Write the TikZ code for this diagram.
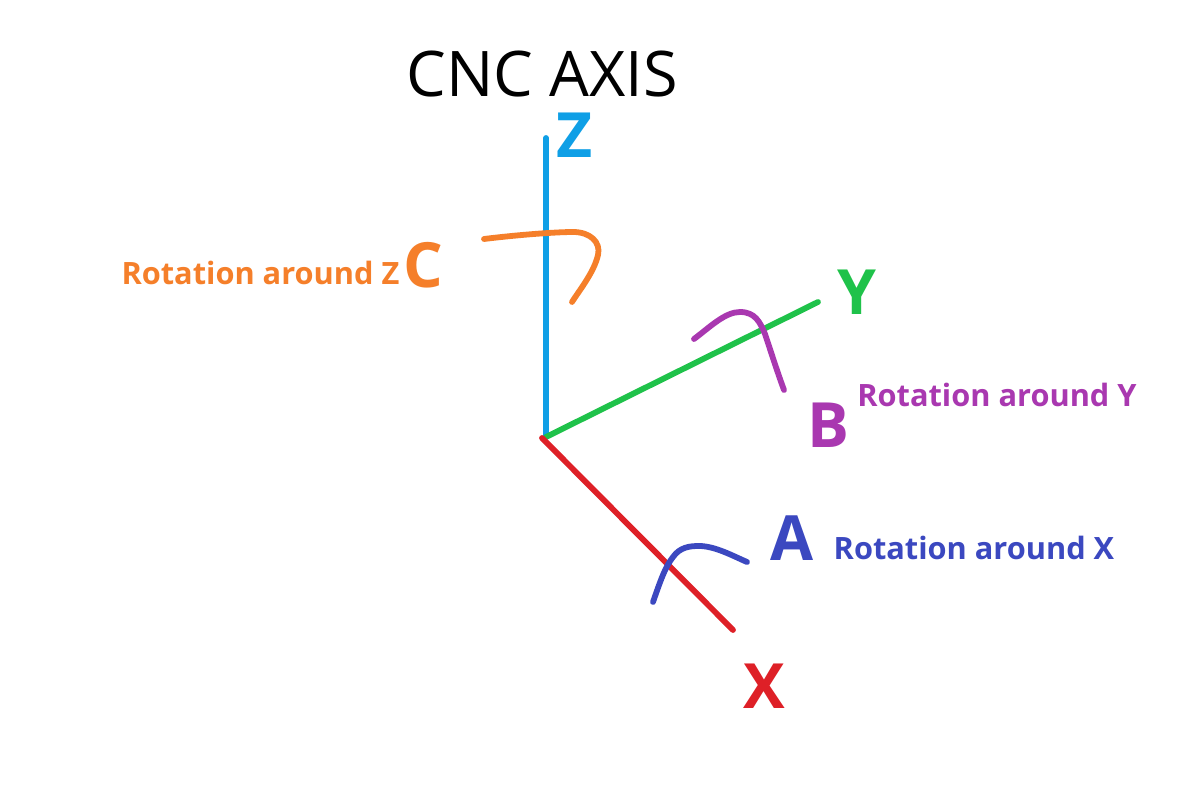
\documentclass[tikz,border=0pt]{standalone}
\usepackage{fontspec}
\setmainfont{Open Sans}
\usetikzlibrary{arrows.meta, positioning}
\definecolor{axisz}{HTML}{0F9FE6}
\definecolor{axisy}{HTML}{1FC24A}
\definecolor{axisx}{HTML}{DE2027}
\definecolor{rotc}{HTML}{F57F2A}
\definecolor{rotb}{HTML}{A938B0}
\definecolor{rota}{HTML}{3B48C0}
\tikzset{
  axisline/.style={line width=3.3pt, line cap=round},
  rotline/.style={line width=3.3pt, line cap=round},
  letter/.style={font=\fontsize{35.5}{36}\selectfont\bfseries, inner sep=0pt},
  rotlabel/.style={font=\fontsize{17.5}{20}\selectfont\bfseries, inner sep=0pt}
}

\begin{document}
\begin{tikzpicture}
    \useasboundingbox (0,0) rectangle (24,16.14);
    \fill[white] (0,0) rectangle (24,16.14);
    \node[font=\fontsize{35.8}{36}\selectfont, inner sep=0pt] (title) at (10.84,14.66) {CNC AXIS};

    \coordinate (origin) at (10.92,7.40);
    \coordinate (ztip) at (10.92,13.38);
    \coordinate (ytip) at (16.36,10.10);
    \coordinate (xstart) at (10.84,7.38);
    \coordinate (xtip) at (14.66,3.54);

    \draw[axisline, axisz] (origin) -- (ztip);
    \draw[axisline, axisy] (origin) -- (ytip);
    \draw[axisline, axisx] (xstart) -- (xtip);

    \node[letter, text=axisz] (zlabel) at (11.50,13.43) {Z};
    \node[letter, text=axisy] (ylabel) at (17.14,10.30) {Y};
    \node[letter, text=axisx] (xlabel) at (15.28,2.42) {X};
    \node[letter, text=rotc] (clabel) at (8.46,10.84) {C};
    \node[letter, text=rotb] (blabel) at (16.56,7.64) {B};
    \node[letter, text=rota] (alabel) at (15.84,5.38) {A};

    \node[rotlabel, text=rotc] (ctext) at (5.21,10.68) {Rotation around Z};
    \node[rotlabel, text=rotb] (btext) at (19.94,8.24) {Rotation around Y};
    \node[rotlabel, text=rota] (atext) at (19.48,5.18) {Rotation around X};

    % rotation strokes
    \draw[rotline, rotc] (9.68,11.36) .. controls (10.5,11.46) and (11.2,11.50) .. (11.46,11.50)
        .. controls (11.8,11.50) and (12.02,11.30) .. (11.96,11.04)
        .. controls (11.88,10.70) and (11.62,10.38) .. (11.44,10.10);
    \draw[rotline, rotb] (13.88,9.36) .. controls (14.2,9.60) and (14.5,9.90) .. (14.80,9.90)
        .. controls (15.1,9.90) and (15.2,9.70) .. (15.30,9.46)
        .. controls (15.42,9.10) and (15.56,8.66) .. (15.68,8.34);
    \draw[rotline, rota] (13.06,4.10) .. controls (13.2,4.50) and (13.3,4.80) .. (13.46,5.00)
        .. controls (13.6,5.20) and (13.8,5.22) .. (13.98,5.22)
        .. controls (14.3,5.22) and (14.66,5.02) .. (14.94,4.90);
\end{tikzpicture}
\end{document}
